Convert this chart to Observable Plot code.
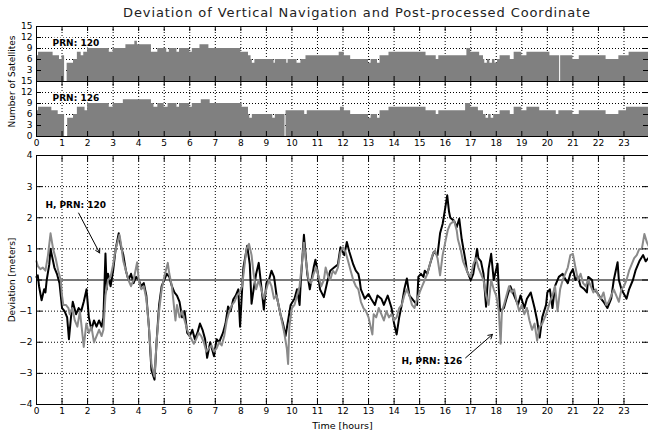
<!DOCTYPE html>
<html><head><meta charset="utf-8">
<script src="https://cdn.jsdelivr.net/npm/d3@7"></script>
<script src="https://cdn.jsdelivr.net/npm/@observablehq/plot@0.6"></script>
<style>
body{margin:0;background:#fff;}
#wrap{position:relative;width:648px;height:432px;overflow:hidden;font-family:"DejaVu Sans",sans-serif;background:#fff;}
#wrap svg{position:absolute;left:0;overflow:visible;}
#title{position:absolute;top:5px;left:0;width:714px;text-align:center;font-size:13px;letter-spacing:0.9px;color:#222;white-space:nowrap;}
</style></head><body><div id="wrap"><div id="title">Deviation of Vertical Navigation and Post-processed Coordinate</div></div>
<script>
// ---------- data ----------
const titleText = "Deviation of Vertical Navigation and Post-processed Coordinate";
const hourTicks = [0,1,2,3,4,5,6,7,8,9,10,11,12,13,14,15,16,17,18,19,20,21,22,23];
const satTicks = [0,3,6,9,12,15];
const devTicks = [-4,-3,-2,-1,0,1,2,3,4];
const xEnd = 23.96;

// number of satellites (step start hour, count)
const sat120Start = [0,0.08,0.65,0.9,1.0,1.1,1.2,1.45,1.6,1.75,1.85,2.0,2.85,3.0,3.5,3.85,3.95,4.5,4.75,5.1,5.2,5.5,5.6,6.0,6.1,6.4,6.75,8.0,8.3,8.4,8.45,8.55,9.3,9.35,9.8,9.85,10.2,10.35,10.55,11.85,12.05,12.3,13.0,13.1,13.35,13.45,13.8,15.25,15.65,15.75,16.85,17.0,17.35,17.5,17.55,17.65,17.75,17.85,17.95,18.05,18.15,18.55,18.7,19.0,19.2,20.1,20.48,20.52,21.0,21.25,22.3,22.8,23.2];
const sat120Count = [7,8,7,6,7,0,5,6,8,7,8,9,8,9,10,11,10,8,9,8,9,8,9,8,9,10,9,8,7,6,5,6,5,6,5,6,5,6,7,8,7,6,5,6,5,7,8,7,6,7,9,8,7,6,5,6,5,6,5,6,7,6,8,7,8,7,0,7,6,7,6,7,8];
const sat126Start = [0,0.08,0.6,0.85,1.1,1.22,1.45,1.6,1.9,2.0,2.85,3.0,3.4,4.5,4.6,4.75,5.0,5.15,5.5,5.6,6.0,6.1,6.45,6.8,8.05,8.3,8.35,8.45,9.25,9.35,9.73,9.77,10.5,10.6,11.05,11.9,12.05,12.3,13.0,13.1,13.35,13.45,13.8,15.25,15.65,15.75,16.8,17.0,17.3,17.5,17.6,17.7,17.8,17.9,18.15,18.55,18.7,19.0,19.2,19.7,20.2,20.35,20.45,20.6,21.0,21.25,22.3,22.8,23.1];
const sat126Count = [7,8,7,6,0,5,6,8,7,9,8,9,10,9,8,9,8,9,8,9,8,9,10,9,8,6,5,6,5,6,0,7,6,7,7,8,7,6,5,6,5,7,8,7,6,7,9,8,7,6,5,6,5,6,7,6,8,7,8,7,7,6,7,7,6,7,6,7,8];

// deviation, PRN 120 (black)
const dev120Hour = [0,0.05,0.1,0.2,0.3,0.35,0.4,0.5,0.55,0.65,0.7,0.8,0.9,1.0,1.1,1.2,1.27,1.35,1.42,1.55,1.65,1.75,1.85,1.96,2.05,2.15,2.25,2.35,2.45,2.55,2.62,2.7,2.75,2.8,2.9,3.0,3.1,3.22,3.3,3.4,3.5,3.6,3.7,3.8,3.9,4.0,4.1,4.2,4.3,4.4,4.5,4.62,4.7,4.8,4.9,5.0,5.1,5.2,5.3,5.4,5.5,5.6,5.7,5.8,5.9,6.0,6.1,6.2,6.3,6.4,6.5,6.6,6.68,6.8,6.95,7.05,7.15,7.3,7.4,7.5,7.6,7.7,7.8,7.9,7.97,8.05,8.1,8.25,8.35,8.42,8.5,8.6,8.7,8.8,8.9,9.0,9.1,9.2,9.3,9.4,9.55,9.65,9.75,9.85,9.95,10.1,10.2,10.3,10.35,10.47,10.6,10.7,10.85,10.92,11.0,11.1,11.25,11.4,11.5,11.65,11.8,11.9,12.05,12.15,12.25,12.4,12.5,12.6,12.65,12.7,12.85,13.0,13.1,13.25,13.35,13.5,13.6,13.75,13.9,14.0,14.1,14.2,14.3,14.4,14.5,14.6,14.7,14.8,14.9,14.95,15.05,15.15,15.2,15.3,15.4,15.55,15.7,15.8,15.9,16.0,16.08,16.15,16.2,16.35,16.45,16.55,16.65,16.8,16.85,16.95,17.0,17.1,17.25,17.3,17.4,17.5,17.6,17.7,17.8,17.9,18.05,18.1,18.15,18.3,18.4,18.55,18.7,18.85,18.95,19.1,19.2,19.35,19.5,19.6,19.7,19.8,19.95,20.0,20.1,20.2,20.3,20.45,20.6,20.65,20.8,20.9,21.0,21.1,21.2,21.3,21.45,21.55,21.6,21.75,21.8,21.95,22.1,22.2,22.35,22.5,22.6,22.75,22.8,22.9,23.1,23.2,23.35,23.45,23.6,23.75,23.85,23.95];
const dev120 = [0.1,0.15,-0.2,-0.65,-0.3,-0.4,0.0,0.5,1.0,0.6,0.4,0.2,-0.1,-0.9,-1.0,-1.2,-1.9,-1.2,-0.7,-1.1,-0.9,-1.0,-0.7,-0.3,-1.2,-1.6,-1.3,-1.5,-1.3,-1.5,-1.2,0.85,-0.3,0.2,-0.2,0.3,1.0,1.5,1.1,0.8,0.3,0.0,0.2,-0.1,0.1,0.0,-0.2,-0.1,-0.5,-1.5,-2.9,-3.2,-2.0,-0.8,-0.2,0.0,0.2,0.1,-0.2,-0.4,-0.5,-0.7,-1.2,-1.0,-1.7,-1.8,-1.6,-1.9,-1.7,-1.4,-1.6,-1.9,-2.5,-2.0,-2.45,-1.9,-2.0,-1.7,-1.4,-0.85,-1.0,-0.63,-0.5,-0.3,-1.5,-0.3,0.4,1.1,0.5,-0.76,-0.3,0.2,0.55,-0.2,-0.95,-0.1,0.0,0.3,0.1,-0.5,-1.1,-1.4,-1.8,-1.3,-0.8,-0.6,-0.3,-0.8,0.0,1.45,0.2,-0.3,0.4,0.65,0.3,-0.3,-0.55,0.0,0.3,0.4,0.5,1.05,0.8,1.22,0.9,0.5,0.3,0.2,0.0,-0.3,-0.6,-0.45,-0.6,-0.8,-0.5,-0.6,-0.8,-0.5,-0.9,-1.4,-1.75,-1.2,-0.8,-0.3,0.05,-0.5,-0.6,-0.7,-0.8,0.1,0.2,0.1,0.3,0.2,0.5,0.9,0.8,1.5,1.8,2.3,2.72,2.2,2.0,1.9,1.7,1.97,1.3,0.6,0.3,0.1,0.0,0.2,1.0,0.7,0.6,0.2,-0.86,0.36,0.84,0.0,0.52,-0.3,-1.0,-0.9,-0.6,-0.2,-0.5,-0.8,-0.5,-0.9,-0.6,-0.4,-0.9,-1.3,-1.85,-1.2,-0.8,-0.4,-0.3,-0.9,-0.2,0.1,0.2,0.1,-0.1,0.2,0.35,0.0,0.1,-0.2,-0.3,-0.4,0.1,0.0,-0.3,-0.4,-0.6,-0.7,-0.9,-0.6,0.0,0.57,0.0,-0.3,-0.6,-0.3,0.0,0.3,0.6,0.8,0.6,0.7];

// deviation, PRN 126 (grey)
const dev126Hour = [0,0.05,0.15,0.25,0.35,0.45,0.55,0.65,0.75,0.85,0.95,1.0,1.05,1.15,1.25,1.3,1.4,1.5,1.6,1.7,1.78,1.85,1.95,2.05,2.15,2.25,2.35,2.45,2.55,2.62,2.7,2.8,2.9,3.0,3.1,3.25,3.3,3.4,3.5,3.6,3.7,3.8,3.94,4.0,4.1,4.2,4.3,4.4,4.5,4.62,4.7,4.8,4.9,5.0,5.14,5.2,5.3,5.44,5.5,5.6,5.7,5.8,5.9,6.0,6.16,6.25,6.35,6.45,6.55,6.65,6.75,6.85,6.95,7.05,7.15,7.25,7.35,7.45,7.55,7.65,7.75,7.85,7.95,8.05,8.12,8.22,8.32,8.42,8.5,8.6,8.7,8.8,8.9,9.0,9.1,9.2,9.3,9.4,9.5,9.6,9.7,9.8,9.85,9.9,10.0,10.1,10.2,10.3,10.4,10.47,10.55,10.65,10.75,10.85,10.95,11.05,11.15,11.25,11.32,11.42,11.5,11.6,11.7,11.8,11.9,12.0,12.1,12.2,12.3,12.4,12.5,12.6,12.7,12.8,12.9,13.0,13.15,13.2,13.3,13.4,13.5,13.6,13.7,13.8,13.9,14.0,14.1,14.2,14.3,14.4,14.5,14.6,14.7,14.8,14.9,15.0,15.1,15.2,15.3,15.4,15.5,15.6,15.7,15.8,15.9,16.0,16.1,16.2,16.35,16.45,16.5,16.6,16.7,16.8,16.9,17.0,17.1,17.2,17.3,17.4,17.5,17.6,17.7,17.8,17.9,18.0,18.1,18.17,18.22,18.3,18.4,18.5,18.6,18.7,18.8,18.9,19.0,19.1,19.2,19.3,19.4,19.5,19.6,19.7,19.8,19.9,20.0,20.1,20.2,20.3,20.4,20.5,20.6,20.7,20.8,20.9,21.0,21.1,21.2,21.3,21.4,21.5,21.6,21.7,21.8,21.9,22.0,22.1,22.2,22.3,22.4,22.5,22.6,22.7,22.8,22.9,23.0,23.1,23.2,23.3,23.4,23.5,23.6,23.7,23.8,23.9,23.96];
const dev126 = [0.6,0.45,0.35,0.4,0.3,0.8,1.5,1.0,0.7,0.3,0.0,-0.5,-0.8,-0.8,-0.9,-1.1,-0.9,-1.3,-1.5,-1.0,-1.6,-2.15,-1.4,-1.7,-1.5,-2.0,-1.8,-1.6,-1.8,-1.6,-0.5,0.0,0.1,0.5,1.0,1.45,1.2,0.6,0.3,0.0,-0.2,0.0,0.57,0.0,-0.3,-0.2,-0.6,-1.5,-2.7,-3.1,-2.0,-1.0,-0.3,0.1,0.55,0.2,-0.2,-1.3,-0.8,-1.2,-1.0,-1.3,-1.6,-1.8,-2.05,-1.9,-1.7,-1.8,-2.0,-2.3,-2.2,-2.1,-2.3,-2.2,-2.0,-2.1,-1.8,-1.3,-1.0,-0.8,-0.7,-0.5,-0.4,-0.2,0.3,1.0,1.16,0.8,0.2,-0.3,0.0,-0.3,-0.6,-0.3,0.0,-0.2,-0.6,-0.5,-0.9,-1.3,-1.7,-2.2,-2.7,-1.5,-0.9,-0.8,-0.5,-0.2,0.6,1.2,0.6,0.0,-0.1,0.2,0.4,0.1,-0.2,0.0,0.4,0.1,0.0,0.3,0.2,0.4,0.9,1.05,0.9,0.6,0.3,0.0,-0.2,-0.3,-0.7,-0.9,-1.0,-1.2,-1.75,-1.1,-1.2,-0.9,-1.1,-1.3,-1.0,-1.2,-1.1,-1.3,-1.2,-0.9,-0.8,-0.5,-0.3,-0.5,-0.8,-0.9,-0.6,-0.4,-0.2,0.0,0.2,0.5,0.8,0.95,0.7,0.15,0.8,1.2,1.6,1.8,1.9,1.6,1.3,1.0,0.6,0.4,0.2,0.1,0.5,0.7,0.4,0.2,0.0,-0.5,-0.8,0.0,-0.3,-0.5,-1.0,-2.05,-1.0,-0.8,-0.5,-0.2,-0.4,-0.3,-0.7,-1.0,-0.8,-1.1,-0.9,-1.3,-1.6,-1.4,-1.95,-1.5,-1.4,-1.2,-1.0,-0.7,-0.5,-0.2,-1.0,-0.3,0.0,0.2,0.4,0.8,0.84,0.4,0.0,0.2,-0.1,-0.2,0.0,-0.2,-0.4,-0.3,-0.5,-0.6,-0.4,-0.8,-0.7,-0.5,-0.3,-0.5,-0.7,-0.3,-0.2,0.0,0.3,0.5,0.7,0.8,1.0,1.0,1.48,1.2,1.1];

// annotations (text anchor and arrow start/end, in hours / metres)
const noteLabels = ["H, PRN: 120", "H, PRN: 126"];
const noteTextHour = [0.35, 14.29];
const noteTextDev = [2.4, -2.6];
const noteArrowFromHour = [1.65, 16.8];
const noteArrowFromDev = [2.15, -2.5];
const noteArrowToHour = [2.47, 17.85];
const noteArrowToDev = [0.87, -1.75];
const panelLabels = ["PRN: 120", "PRN: 126"];

// ---------- drawing ----------
const W = 648, ML = 36, MR = 0;
const plotW = W - ML - MR;
const font = {fontFamily: "DejaVu Sans, sans-serif", fontSize: "9px", background: "transparent", color: "#000"};
const wrap = document.getElementById("wrap");
const dot = {stroke: "#000", strokeOpacity: 1, strokeDasharray: "1,2", strokeWidth: 1};

function steps(starts, counts) {
  const d = starts.map((s, i) => ({h: s, n: counts[i]}));
  d.push({h: xEnd, n: counts[counts.length - 1]});
  return d;
}

function satPanel(starts, counts, label, top, height, mt, mb, showX, labelTicks, extra) {
  const plotH = height - mt - mb;
  const tk = 5;
  const svg = Plot.plot({
    width: W, height, marginLeft: ML, marginRight: MR, marginTop: mt, marginBottom: mb,
    style: font,
    x: {domain: [0, xEnd], axis: showX ? undefined : null},
    y: {domain: [0, 15]},
    marks: [
      Plot.gridX(hourTicks.slice(1), dot),
      Plot.gridY(satTicks.slice(1, -1), dot),
      Plot.areaY(steps(starts, counts), {x: "h", y: "n", curve: "step-after", fill: "#808080"}),
      Plot.tickX(hourTicks, {x: d => d, stroke: "#000", insetBottom: plotH - tk}),
      Plot.tickX(hourTicks, {x: d => d, stroke: "#000", insetTop: plotH - tk}),
      Plot.tickY(satTicks, {y: d => d, stroke: "#000", insetRight: plotW - tk}),
      Plot.tickY(satTicks, {y: d => d, stroke: "#000", insetLeft: plotW - tk}),
      Plot.axisY(labelTicks, {tickSize: 0, tickPadding: 4, label: null, fill: "#000"}),
      showX ? Plot.axisX(hourTicks, {tickSize: 0, tickPadding: 3, label: null, fill: "#000"}) : null,
      Plot.text([label], {x: [0.63], y: [10.5], text: d => d, textAnchor: "start", fontWeight: "bold", fontSize: 9, fill: "#000", stroke: "#fff", strokeWidth: 3}),
      Plot.frame({stroke: "#000"}),
      ...(extra || [])
    ]
  });
  svg.style.top = top + "px";
  wrap.appendChild(svg);
}

satPanel(sat120Start, sat120Count, panelLabels[0], 0, 82, 26, 1, false, satTicks.slice(1), [
  Plot.text(["Number of Satellites"], {frameAnchor: "bottom-left", dx: -24, rotate: -90, textAnchor: "middle", lineAnchor: "middle", fontSize: 9, fill: "#000"})
]);
satPanel(sat126Start, sat126Count, panelLabels[1], 75, 80, 6, 19, true, satTicks);

// deviation panel
{
  const top = 148, height = 284, mt = 7, mb = 28;
  const plotH = height - mt - mb;
  const tk = 6;
  const d120 = dev120Hour.map((h, i) => ({h, v: dev120[i]}));
  const d126 = dev126Hour.map((h, i) => ({h, v: dev126[i]}));
  const notes = noteLabels.map((t, i) => ({t, x: noteTextHour[i], y: noteTextDev[i], x1: noteArrowFromHour[i], y1: noteArrowFromDev[i], x2: noteArrowToHour[i], y2: noteArrowToDev[i]}));
  const svg = Plot.plot({
    width: W, height, marginLeft: ML, marginRight: MR, marginTop: mt, marginBottom: mb,
    style: font,
    x: {domain: [0, xEnd]},
    y: {domain: [-4, 4]},
    marks: [
      Plot.gridX(hourTicks.slice(1), dot),
      Plot.gridY(devTicks.filter(t => t !== 0 && t !== -4 && t !== 4), dot),
      Plot.ruleY([0], {stroke: "#7a7a7a", strokeWidth: 2}),
      Plot.line(d120, {x: "h", y: "v", stroke: "#000", strokeWidth: 2}),
      Plot.line(d126, {x: "h", y: "v", stroke: "#8a8a8a", strokeWidth: 2}),
      Plot.tickX(hourTicks, {x: d => d, stroke: "#000", insetBottom: plotH - tk}),
      Plot.tickX(hourTicks, {x: d => d, stroke: "#000", insetTop: plotH - tk}),
      Plot.tickY(devTicks, {y: d => d, stroke: "#000", insetRight: plotW - tk}),
      Plot.tickY(devTicks, {y: d => d, stroke: "#000", insetLeft: plotW - tk}),
      Plot.axisY(devTicks, {tickSize: 0, tickPadding: 4, label: null, fill: "#000"}),
      Plot.axisX(hourTicks, {tickSize: 0, tickPadding: 3, label: null, fill: "#000"}),
      Plot.arrow(notes, {x1: "x1", y1: "y1", x2: "x2", y2: "y2", stroke: "#000", strokeWidth: 1, headLength: 7}),
      Plot.text(notes, {x: "x", y: "y", text: "t", textAnchor: "start", fontWeight: "bold", fontSize: 9, fill: "#000"}),
      Plot.text(["Deviation [meters]"], {frameAnchor: "left", dx: -24, rotate: -90, textAnchor: "middle", lineAnchor: "middle", fontSize: 9, fill: "#000"}),
      Plot.text(["Time [hours]"], {frameAnchor: "bottom", dy: 21, lineAnchor: "middle", fontSize: 9.5, fill: "#000"}),
      Plot.frame({stroke: "#000"})
    ]
  });
  svg.style.top = top + "px";
  wrap.appendChild(svg);
}
</script></body></html>
